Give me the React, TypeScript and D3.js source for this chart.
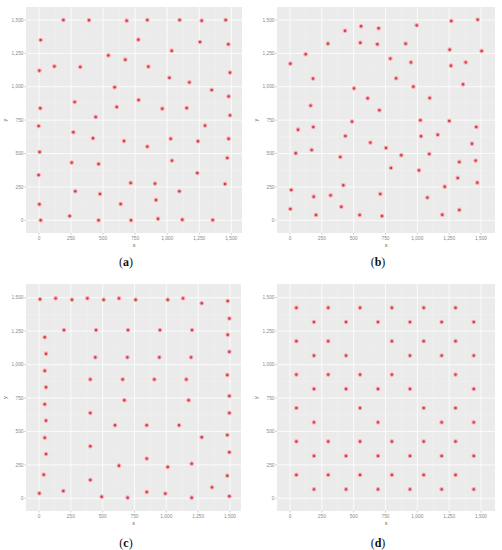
import React from "react";
import * as d3 from "d3";

// ---- data ----
const ticks = [0, 250, 500, 750, 1000, 1250, 1500];
const minorTicks = [125, 375, 625, 875, 1125, 1375];
const captions = ["(a)", "(b)", "(c)", "(d)"];

const pointsA: [number, number][] = [
  [190, 1500], [390, 1498], [684, 1495], [845, 1500], [1097, 1500], [1269, 1495], [1456, 1500],
  [13, 1350], [775, 1353], [1256, 1335], [1477, 1318], [1035, 1270], [541, 1235], [673, 1203],
  [3, 1121], [120, 1153], [322, 1148], [853, 1151], [1017, 1068], [1173, 1033], [1490, 1106],
  [590, 996], [1347, 976], [1479, 928], [278, 886], [777, 901], [10, 839], [606, 849],
  [962, 836], [1152, 841], [442, 774], [1490, 786], [-3, 706], [1295, 709], [268, 659],
  [421, 614], [663, 594], [1027, 611], [1240, 592], [1479, 611], [845, 552], [5, 512],
  [1469, 467], [255, 432], [465, 422], [1037, 447], [1235, 354], [-3, 339], [715, 280],
  [905, 275], [1451, 272], [283, 217], [476, 197], [1095, 217], [913, 152], [637, 122],
  [3, 120], [239, 32], [13, 0], [465, 0], [718, 0], [928, 12], [1118, 5], [1355, 2],
];

const pointsB: [number, number][] = [
  [1474, 1503], [1267, 1493], [995, 1460], [558, 1453], [696, 1438], [432, 1420], [298, 1323],
  [552, 1330], [686, 1318], [908, 1323], [1254, 1278], [1505, 1268], [123, 1243], [3, 1173],
  [788, 1211], [950, 1183], [1264, 1158], [1380, 1183], [181, 1061], [833, 1063], [969, 1001],
  [1359, 1018], [503, 988], [610, 914], [1097, 916], [162, 859], [702, 824], [487, 739],
  [1024, 749], [1251, 744], [63, 679], [183, 699], [1463, 699], [435, 631], [1029, 629],
  [1160, 641], [631, 582], [1429, 574], [754, 542], [45, 502], [170, 527], [395, 474],
  [874, 487], [1094, 497], [793, 392], [1013, 374], [1330, 437], [1458, 447], [1317, 317],
  [1471, 282], [10, 227], [419, 262], [1215, 252], [319, 187], [186, 177], [709, 197],
  [1079, 170], [403, 102], [3, 85], [1330, 77], [204, 40], [547, 40], [723, 32], [1196, 42],
];

const pointsC: [number, number][] = [
  [8, 1488], [131, 1495], [259, 1485], [380, 1495], [508, 1485], [628, 1495], [759, 1485],
  [1011, 1485], [1131, 1495], [1278, 1458], [1482, 1475], [1495, 1345],
  [196, 1258], [448, 1258], [699, 1258], [950, 1258], [1202, 1258], [1482, 1223], [45, 1204],
  [55, 1081], [442, 1054], [694, 1054], [945, 1054], [1194, 1054], [1495, 1096],
  [45, 954], [1479, 922], [403, 889], [657, 889], [906, 889], [1157, 889],
  [55, 830], [1495, 765], [670, 733], [1175, 733], [45, 703], [403, 638], [1495, 638],
  [55, 581], [597, 546], [846, 546], [1100, 546], [45, 453], [1278, 456], [1479, 473],
  [403, 389], [55, 331], [1495, 344], [846, 297], [628, 244], [1199, 259], [1011, 234],
  [37, 177], [1479, 169], [403, 137], [1359, 82], [191, 55], [846, 47], [992, 35], [3, 37],
  [492, 12], [696, 5], [1199, 5], [1495, 15],
];

const pointsD: [number, number][] = [
  [50, 1425], [300, 1425], [550, 1425], [800, 1425], [1050, 1425], [1300, 1425],
  [188, 1318], [440, 1318], [691, 1318], [942, 1318], [1191, 1318], [1443, 1318],
  [50, 1175], [300, 1175], [800, 1175], [1050, 1175], [1300, 1175],
  [188, 1067], [440, 1067], [942, 1067], [1191, 1067], [1443, 1067],
  [50, 925], [300, 925], [550, 925], [800, 925], [1300, 925],
  [188, 818], [440, 818], [691, 818], [942, 818], [1443, 818],
  [50, 675], [550, 675], [1050, 675], [1300, 675],
  [188, 568], [691, 568], [1191, 568], [1443, 568],
  [50, 425], [300, 425], [550, 425], [800, 425], [1050, 425], [1300, 425],
  [188, 317], [440, 317], [691, 317], [942, 317], [1191, 317], [1443, 317],
  [50, 175], [300, 175], [550, 175], [800, 175], [1050, 175], [1300, 175],
  [188, 67], [440, 67], [691, 67], [942, 67], [1191, 67], [1443, 67],
];

const allPoints = [pointsA, pointsB, pointsC, pointsD];

// ---- layout ----
const W = 502;
const H = 550;
const panels = [
  { left: 26, right: 242, top: 7, bottom: 233, x0: 39, x1: 231.3, y0: 220.3, y1: 20, cap: 126, capY: 266 },
  { left: 277, right: 495, top: 7, bottom: 233, x0: 290, x1: 481, y0: 220.3, y1: 20, cap: 378, capY: 266 },
  { left: 26, right: 241, top: 284, bottom: 511, x0: 39, x1: 230, y0: 498.3, y1: 297.7, cap: 126, capY: 547 },
  { left: 277, right: 495, top: 284, bottom: 511, x0: 290, x1: 481, y0: 498.3, y1: 297.7, cap: 378, capY: 547 },
];

const fmt = d3.format(",");

function Panel({ p, pts, caption }: { p: typeof panels[0]; pts: [number, number][]; caption: string }) {
  const x = d3.scaleLinear().domain([0, 1500]).range([p.x0, p.x1]);
  const y = d3.scaleLinear().domain([0, 1500]).range([p.y0, p.y1]);
  const labelColor = "#8a8a8a";
  return (
    <g>
      <rect x={p.left} y={p.top} width={p.right - p.left} height={p.bottom - p.top} fill="#ebebeb" />
      {minorTicks.map((t) => (
        <g key={"m" + t}>
          <line x1={x(t)} x2={x(t)} y1={p.top} y2={p.bottom} stroke="#f4f4f4" strokeWidth={0.4} />
          <line x1={p.left} x2={p.right} y1={y(t)} y2={y(t)} stroke="#f4f4f4" strokeWidth={0.4} />
        </g>
      ))}
      {ticks.map((t) => (
        <g key={"t" + t}>
          <line x1={x(t)} x2={x(t)} y1={p.top} y2={p.bottom} stroke="#ffffff" strokeWidth={0.8} />
          <line x1={p.left} x2={p.right} y1={y(t)} y2={y(t)} stroke="#ffffff" strokeWidth={0.8} />
          <line x1={x(t)} x2={x(t)} y1={p.bottom} y2={p.bottom + 1.5} stroke={labelColor} strokeWidth={0.5} />
          <line x1={p.left - 1.5} x2={p.left} y1={y(t)} y2={y(t)} stroke={labelColor} strokeWidth={0.5} />
          <text x={x(t)} y={p.bottom + 7} fontSize={4.8} fill={labelColor} textAnchor="middle" fontFamily="Liberation Sans, Arial, sans-serif">
            {fmt(t)}
          </text>
          <text x={p.left - 2.5} y={y(t) + 1.7} fontSize={4.8} fill={labelColor} textAnchor="end" fontFamily="Liberation Sans, Arial, sans-serif">
            {fmt(t)}
          </text>
        </g>
      ))}
      <text x={(p.left + p.right) / 2} y={p.bottom + 14} fontSize={5.5} fill="#555" textAnchor="middle" fontFamily="Liberation Sans, Arial, sans-serif">x</text>
      <text x={p.left - 19} y={(p.top + p.bottom) / 2} fontSize={5.5} fill="#555" textAnchor="middle" fontFamily="Liberation Sans, Arial, sans-serif"
        transform={`rotate(-90 ${p.left - 19} ${(p.top + p.bottom) / 2})`}>y</text>
      {pts.map(([a, b], i) => (
        <circle key={i} cx={x(a)} cy={y(b)} r={1.8} fill="#dc3442" stroke="#f5b0b7" strokeWidth={1.2} strokeOpacity={0.85} />
      ))}
      <text x={p.cap} y={p.capY} fontSize={12} textAnchor="middle" fill="#111" fontFamily="Liberation Serif, 'DejaVu Serif', serif">
        (<tspan fontWeight="bold">{caption.slice(1, 2)}</tspan>)
      </text>
    </g>
  );
}

export default function App() {
  return (
    <svg width={W} height={H} viewBox={`0 0 ${W} ${H}`} style={{ position: "absolute", left: 0, top: 0, background: "#fff" }}>
      <rect width={W} height={H} fill="#fff" />
      {panels.map((p, i) => (
        <Panel key={i} p={p} pts={allPoints[i]} caption={captions[i]} />
      ))}
    </svg>
  );
}
